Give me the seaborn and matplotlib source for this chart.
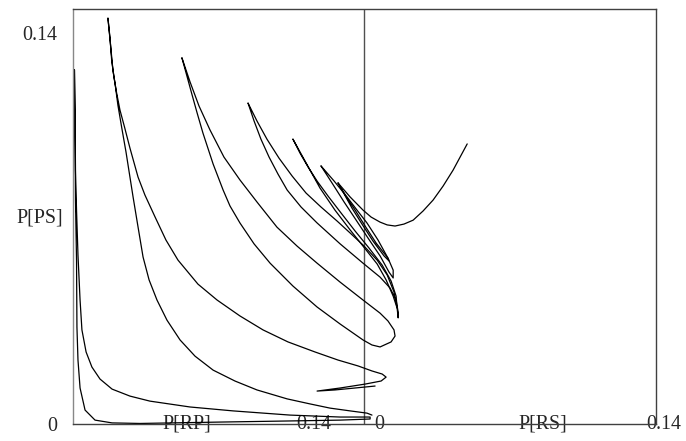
import pandas as pd
import matplotlib.pyplot as plt
import seaborn as sns

# phase portrait: left half is P[RP] (0..0.14), right half is P[RS] shifted by 0.14
# every loop is a closed-ish trajectory

loop_u_x = [0.1896, 0.1862, 0.1828, 0.1780, 0.1732, 0.1684, 0.1636, 0.1592, 0.1549, 0.1511, 0.1477, 0.1434, 0.1395, 0.1333, 0.1275]
loop_u_y = [0.1003, 0.0956, 0.0909, 0.0852, 0.0802, 0.0763, 0.0730, 0.0716, 0.0709, 0.0713, 0.0723, 0.0741, 0.0766, 0.0813, 0.0863]

loop_g_x = [0.1275, 0.1313, 0.1357, 0.1405, 0.1458, 0.1515, 0.1520, 0.1496, 0.1443, 0.1390, 0.1342, 0.1304, 0.1275]
loop_g_y = [0.0863, 0.0816, 0.0766, 0.0709, 0.0648, 0.0594, 0.0584, 0.0602, 0.0655, 0.0716, 0.0773, 0.0824, 0.0863]

loop_f_x = [0.1193, 0.1256, 0.1318, 0.1366, 0.1414, 0.1467, 0.1515, 0.1540, 0.1540, 0.1520, 0.1477, 0.1419, 0.1362, 0.1304, 0.1246, 0.1193]
loop_f_y = [0.0924, 0.0870, 0.0813, 0.0766, 0.0720, 0.0659, 0.0594, 0.0551, 0.0523, 0.0544, 0.0602, 0.0666, 0.0730, 0.0795, 0.0863, 0.0924]

loop_e_x = [0.1058, 0.1092, 0.1131, 0.1174, 0.1227, 0.1289, 0.1357, 0.1424, 0.1487, 0.1530, 0.1554, 0.1559,
            0.1540, 0.1506, 0.1463, 0.1410, 0.1333, 0.1260, 0.1188, 0.1121, 0.1058]
loop_e_y = [0.1020, 0.0970, 0.0920, 0.0870, 0.0816, 0.0756, 0.0691, 0.0630, 0.0569, 0.0512, 0.0458, 0.0415,
            0.0458, 0.0516, 0.0573, 0.0623, 0.0695, 0.0766, 0.0845, 0.0935, 0.1020]

loop_d_x = [0.0842, 0.0871, 0.0904, 0.0943, 0.0986, 0.1030, 0.1097, 0.1174, 0.1285, 0.1395, 0.1477, 0.1525,
            0.1554, 0.1564, 0.1564, 0.1559, 0.1544, 0.1511, 0.1463, 0.1395, 0.1333, 0.1270, 0.1193, 0.1121,
            0.1054, 0.0991, 0.0933, 0.0885, 0.0842]
loop_d_y = [0.1149, 0.1085, 0.1020, 0.0956, 0.0895, 0.0838, 0.0777, 0.0720, 0.0645, 0.0576, 0.0526, 0.0487,
            0.0444, 0.0401, 0.0380, 0.0415, 0.0473, 0.0534, 0.0587, 0.0641, 0.0684, 0.0727, 0.0777, 0.0827,
            0.0888, 0.0952, 0.1020, 0.1085, 0.1149]

loop_c_x = [0.0524, 0.0563, 0.0606, 0.0659, 0.0726, 0.0803, 0.0885, 0.0981, 0.1078, 0.1174, 0.1285, 0.1395,
            0.1477, 0.1515, 0.1544, 0.1549, 0.1530, 0.1477, 0.1438, 0.1395, 0.1285, 0.1174, 0.1058, 0.0948,
            0.0871, 0.0803, 0.0755, 0.0722, 0.0674, 0.0625, 0.0597, 0.0573, 0.0548, 0.0524]
loop_c_y = [0.1311, 0.1225, 0.1139, 0.1053, 0.0956, 0.0874, 0.0795, 0.0705, 0.0637, 0.0576, 0.0508, 0.0444,
            0.0397, 0.0369, 0.0337, 0.0315, 0.0294, 0.0276, 0.0283, 0.0301, 0.0358, 0.0419, 0.0494, 0.0576,
            0.0645, 0.0720, 0.0781, 0.0838, 0.0931, 0.1042, 0.1114, 0.1178, 0.1246, 0.1311]

loop_b_x = [0.1438, 0.1414, 0.1333, 0.1236, 0.1140, 0.1030, 0.0885, 0.0779, 0.0674, 0.0587, 0.0515, 0.0452,
            0.0404, 0.0366, 0.0337, 0.0313, 0.0289, 0.0274, 0.0255, 0.0234, 0.0216, 0.0202, 0.0192, 0.0183,
            0.0168, 0.0178, 0.0186, 0.0197, 0.0210, 0.0226, 0.0248, 0.0274, 0.0313, 0.0346, 0.0395, 0.0447,
            0.0505, 0.0601, 0.0693, 0.0803, 0.0914, 0.1034, 0.1164, 0.1275, 0.1371, 0.1438, 0.1487, 0.1506,
            0.1482, 0.1405, 0.1285, 0.1174, 0.1260, 0.1357, 0.1453]
loop_b_y = [0.0032, 0.0039, 0.0047, 0.0057, 0.0072, 0.0090, 0.0122, 0.0154, 0.0193, 0.0243, 0.0301, 0.0372,
            0.0444, 0.0516, 0.0598, 0.0705, 0.0813, 0.0884, 0.0974, 0.1063, 0.1142, 0.1221, 0.1268, 0.1339,
            0.1454, 0.1382, 0.1303, 0.1242, 0.1185, 0.1124, 0.1063, 0.0988, 0.0884, 0.0820, 0.0741, 0.0659,
            0.0587, 0.0501, 0.0444, 0.0387, 0.0337, 0.0294, 0.0258, 0.0229, 0.0208, 0.0190, 0.0179, 0.0168,
            0.0154, 0.0143, 0.0129, 0.0118, 0.0122, 0.0129, 0.0136]

loop_a_x = [0.0007, 0.0010, 0.0012, 0.0017, 0.0024, 0.0034, 0.0043, 0.0063, 0.0091, 0.0130, 0.0188, 0.0274,
            0.0370, 0.0563, 0.0770, 0.1044, 0.1285, 0.1429, 0.1429, 0.1285, 0.1044, 0.0707, 0.0322, 0.0188,
            0.0106, 0.0058, 0.0034, 0.0024, 0.0019, 0.0017, 0.0012, 0.0010, 0.0007]
loop_a_y = [0.1268, 0.1089, 0.0909, 0.0766, 0.0605, 0.0444, 0.0337, 0.0258, 0.0204, 0.0161, 0.0125, 0.0100,
            0.0082, 0.0061, 0.0047, 0.0032, 0.0025, 0.0025, 0.0018, 0.0014, 0.0011, 0.0007, 0.0002, 0.0004,
            0.0014, 0.0050, 0.0129, 0.0229, 0.0347, 0.0587, 0.0802, 0.1017, 0.1268]

loops = {
    "u": (loop_u_x, loop_u_y),
    "g": (loop_g_x, loop_g_y),
    "f": (loop_f_x, loop_f_y),
    "e": (loop_e_x, loop_e_y),
    "d": (loop_d_x, loop_d_y),
    "c": (loop_c_x, loop_c_y),
    "b": (loop_b_x, loop_b_y),
    "a": (loop_a_x, loop_a_y),
}

panel_width = 0.14
y_ticks = [0, 0.14]
y_tick_labels = ["0", "0.14"]

df = pd.concat(
    [pd.DataFrame({"x": xs, "y": ys, "loop": name}) for name, (xs, ys) in loops.items()],
    ignore_index=True,
)

sns.set_style("white")
plt.rcParams["font.family"] = ["Liberation Serif", "DejaVu Serif"]

fig = plt.figure(figsize=(6.86, 4.41), dpi=100)
ax = fig.add_axes([0.1064, 0.0385, 0.8499, 0.9410])

sns.lineplot(
    data=df, x="x", y="y", units="loop", estimator=None, sort=False,
    color="black", linewidth=0.9, solid_joinstyle="round", ax=ax,
)

ax.set_xlim(0, 2.003 * panel_width)
ax.set_ylim(0, 0.1486)
ax.axvline(panel_width, color="#505050", linewidth=1, zorder=1)

for side, sp in ax.spines.items():
    sp.set_visible(True)
    sp.set_linewidth(1)
    sp.set_color("#888888" if side == "left" else "#404040")

ax.set_xticks([])
ax.set_yticks(y_ticks)
ax.set_yticklabels(y_tick_labels)
ax.tick_params(axis="y", direction="inout", length=8.6, width=1, color="#505050",
               pad=7, labelsize=14.4)
ax.set_xlabel("")
ax.set_ylabel("")

# axis captions sit right on the bottom line, like the original
fs = 14.4
ax.text(0.0548, 0, "P[RP]", ha="center", va="center", fontsize=fs, zorder=1)
ax.text(0.1159, 0, "0.14", ha="center", va="center", fontsize=fs, zorder=1)
ax.text(0.1472, 0, "0", ha="center", va="center", fontsize=fs, zorder=1)
ax.text(0.2261, 0, "P[RS]", ha="center", va="center", fontsize=fs, zorder=1, clip_on=False)
ax.text(0.2843, 0, "0.14", ha="center", va="center", fontsize=fs, zorder=1, clip_on=False)
ax.text(-0.0159, 0.0738, "P[PS]", ha="center", va="center", fontsize=fs, clip_on=False)

fig.savefig("out.png", dpi=100)
